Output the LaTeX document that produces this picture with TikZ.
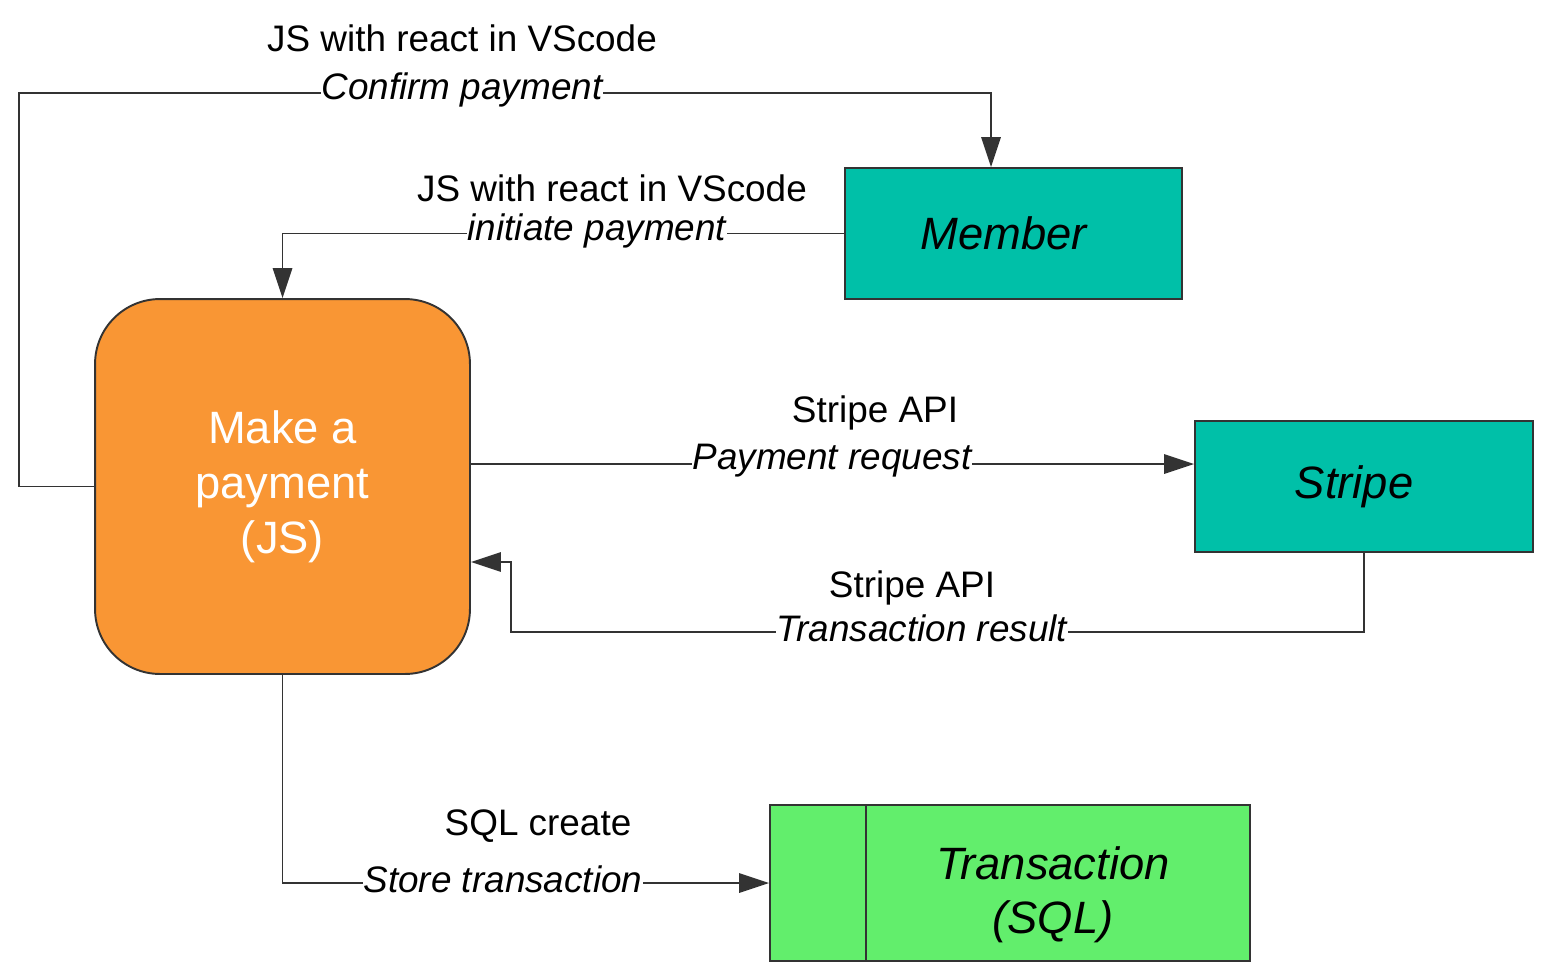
\documentclass[tikz,border=0pt]{standalone}
\usepackage{fontspec}
\setmainfont{Liberation Sans}
\usetikzlibrary{positioning,arrows.meta}
\definecolor{payorange}{HTML}{F99634}
\definecolor{actorteal}{HTML}{00C0A8}
\definecolor{storegreen}{HTML}{62EE6C}
\definecolor{linegray}{HTML}{333333}

\begin{document}
\begin{tikzpicture}[x=0.02cm,y=-0.02cm]
          \tikzset{flow/.style={draw=linegray, line width=1.1pt, -{Triangle[length=17pt,width=11pt]}}}
          \tikzset{box/.style={draw=linegray, line width=1.1pt, inner sep=0pt, font=\fontsize{25.8}{31}\selectfont\itshape}}
          \tikzset{lab/.style={fill=white, inner sep=0.5pt, font=\fontsize{21}{25}\selectfont\itshape}}
          \tikzset{tech/.style={inner sep=0pt, font=\fontsize{21}{25}\selectfont}}

          \useasboundingbox (0,0) rectangle (1547,974);

          \node[box, fill=payorange, rounded corners=1.3cm, minimum width=7.5cm, minimum height=7.5cm,
                align=center, text=white, font=\fontsize{25.8}{31.2}\selectfont] (pay) at (282.5,486.5)
                {Make a\\payment\\(JS)};
          \node[box, fill=actorteal, minimum width=6.74cm, minimum height=2.62cm,
                label={[xshift=-0.2cm, font=\fontsize{25.8}{31}\selectfont\itshape]center:Member}] (member) at (1013.5,233.5) {};
          \node[box, fill=actorteal, minimum width=6.76cm, minimum height=2.62cm,
                label={[xshift=-0.2cm, font=\fontsize{25.8}{31}\selectfont\itshape]center:Stripe}] (stripe) at (1364,486.5) {};
          \node[box, fill=storegreen, minimum width=9.6cm, minimum height=3.12cm] (trans) at (1010,883) {};
          \draw[linegray, line width=1.1pt] (866,805) -- (866,961);
          \node[align=center, font=\fontsize{25.8}{31}\selectfont\itshape] (transtext) at (1053,895) {Transaction\\(SQL)};

          \draw[flow] (pay.west) -| (19,93) -| ([xshift=-0.45cm]member.north);
          \draw[flow] (member.west) -| (pay.north);
          \draw[flow] ([yshift=0.45cm]pay.east) -- ([yshift=0.45cm]stripe.west);
          \draw[flow] (stripe.south) |- (511,632) |- ([yshift=-1.51cm]pay.east);
          \draw[flow] (pay.south) |- (trans.west);

          \node[lab] (confirm) at (462,90) {Confirm payment};
          \node[tech] (confirmjs) at (462,38) {JS with react in VScode};
          \node[lab] (initiate) at (597,231) {initiate payment};
          \node[tech] (initiatejs) at (612,188) {JS with react in VScode};
          \node[lab] (request) at (832,461) {Payment request};
          \node[tech] (requestapi) at (875,413) {Stripe API};
          \node[lab] (result) at (922,628) {Transaction result};
          \node[tech] (resultapi) at (912,588) {Stripe API};
          \node[lab] (store) at (503,879) {Store transaction};
          \node[tech] (storesql) at (538,826) {SQL create};
        \end{tikzpicture}
\end{document}
